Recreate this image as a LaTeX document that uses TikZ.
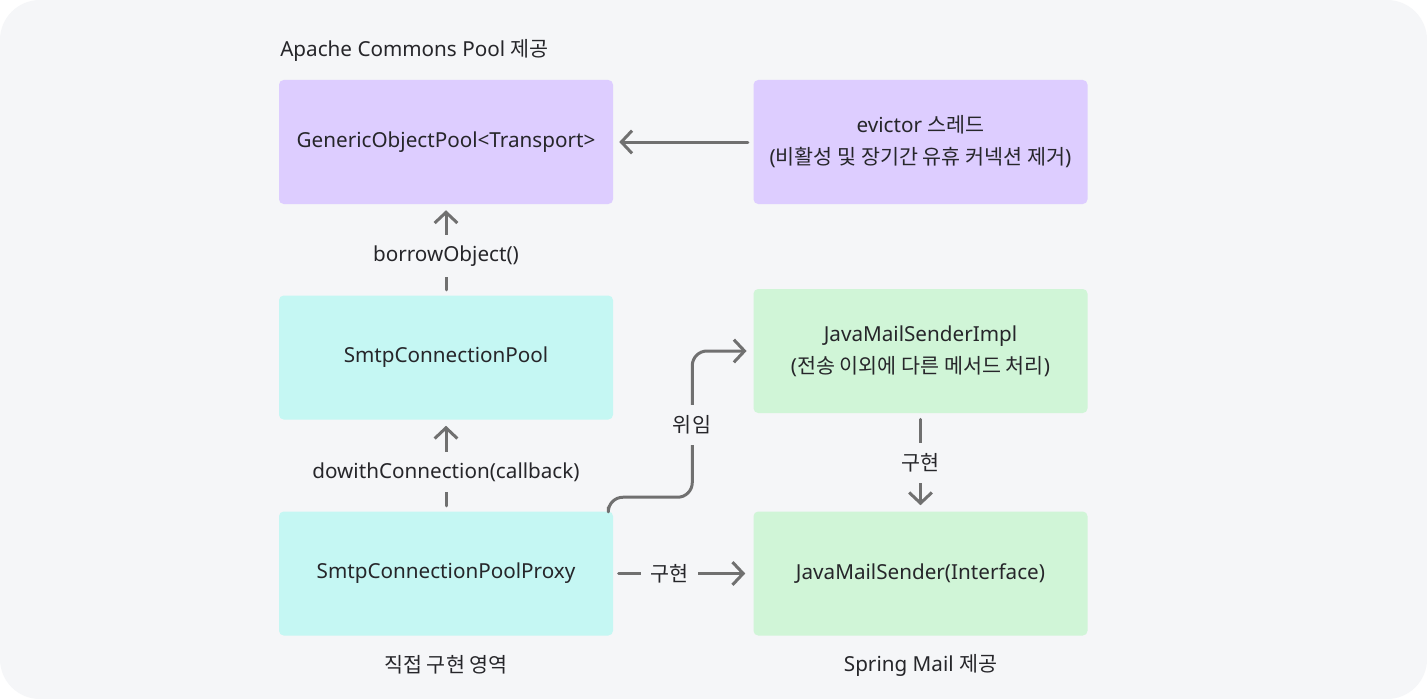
\documentclass[tikz,border=0pt]{standalone}
\usepackage{fontspec}
\setmainfont{Noto Sans}
\newfontfamily\kr{Noto Sans CJK KR}
\usepackage{tikz}
\usetikzlibrary{arrows.meta, positioning, calc}
\definecolor{pagebg}{RGB}{245,246,248}
\definecolor{poolpurple}{RGB}{221,205,255}
\definecolor{proxycyan}{RGB}{197,247,243}
\definecolor{mailgreen}{RGB}{208,245,215}
\definecolor{arrowgray}{RGB}{112,112,112}
\definecolor{textdark}{RGB}{38,38,42}

\tikzset{
  box/.style={minimum width=250.5pt, minimum height=93pt, rounded corners=3.5pt,
    align=center, text=textdark, font=\fontsize{15.5}{24}\selectfont, inner sep=0pt},
  caption/.style={text=textdark, font=\fontsize{15.5}{18}\selectfont, inner sep=0pt},
  link/.style={-{Straight Barb[length=8pt, width=17pt]}, arrowgray, line width=2.25pt,
    line cap=round, line join=round, shorten <=4pt, shorten >=4.5pt},
  lbl/.style={fill=pagebg, text=textdark, font=\fontsize{15.5}{18}\selectfont,
    inner xsep=7pt, inner ysep=8pt},
}

\begin{document}
\begin{tikzpicture}[x=0.75pt, y=-0.75pt]
% Background
\fill[white] (0,0) rectangle (1427,699);
\useasboundingbox (0,0) rectangle (1427,699);
\fill[pagebg, rounded corners=30pt] (0,0) rectangle (1427,699);

% Boxes
\node[box, fill=poolpurple] (gop) at (446,142) {GenericObjectPool<Transport>};
\node[box, fill=poolpurple] (evictor) at (920.5,142) {evictor {\kr 스레드}\\({\kr 비활성 및 장기간 유휴 커넥션 제거})};
\node[box, fill=proxycyan] (pool) at (446,357.5) {SmtpConnectionPool};
\node[box, fill=mailgreen] (impl) at (920.5,351) {JavaMailSenderImpl\\({\kr 전송 이외에 다른 메서드 처리})};
\node[box, fill=proxycyan] (proxy) at (446,573.5) {SmtpConnectionPoolProxy};
\node[box, fill=mailgreen] (jms) at (920.5,573.5) {JavaMailSender(Interface)};

% Captions
\node[caption, anchor=west] (capPool) at (280,50) {Apache Commons Pool {\kr 제공}};
\node[caption] (capOwn) at (446,665) {\kr 직접 구현 영역};
\node[caption] (capSpring) at (920.5,665) {Spring Mail {\kr 제공}};

% Arrows
\draw[link] (evictor.west) -- (gop.east);
\draw[link] (pool.north) -- node[lbl, pos=0.43] (lblBorrow) {borrowObject()} (gop.south);
\draw[link] (proxy.north) -- node[lbl, pos=0.43] (lblDo) {dowithConnection(callback)} (pool.south);
\draw[link, shorten >=6pt] (proxy.east) -- node[lbl, pos=0.4] (lblImplH) {\kr 구현} (jms.west);
\draw[link, shorten <=4.5pt] (impl.south) -- node[lbl, pos=0.51] (lblImplV) {\kr 구현} (jms.north);
\draw[link, rounded corners=11pt, shorten <=0pt, shorten >=5pt]
  ($(proxy.north east)+(-5,-4)$) |- ($(proxy.north east)+(79,-14)$) |- (impl.west);
\node[lbl] (lblDelegate) at (692,425) {\kr 위임};
\end{tikzpicture}
\end{document}
